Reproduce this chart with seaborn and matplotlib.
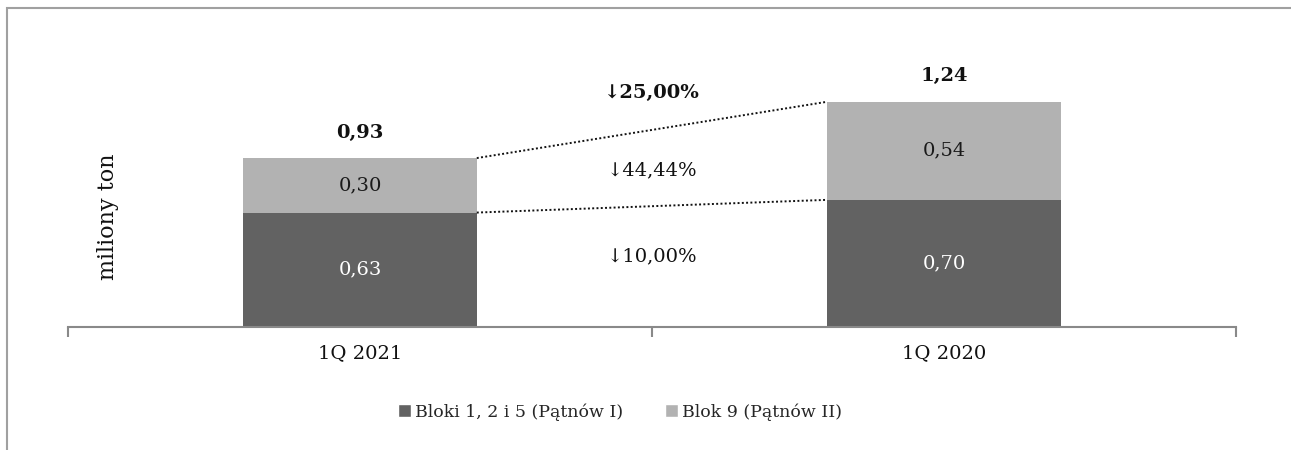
import matplotlib.pyplot as plt
import matplotlib as mpl
from matplotlib.patches import Patch, Rectangle
import pandas as pd
import seaborn as sns

# data
quarters = ['1Q 2021', '1Q 2020']
bloki_125 = [0.63, 0.70]
blok_9 = [0.30, 0.54]
totals = [0.93, 1.24]
series_names = ['Bloki 1, 2 i 5 (Pątnów I)', 'Blok 9 (Pątnów II)']
change_labels = ['↓25,00%', '↓44,44%', '↓10,00%']
change_y = [1.29, 0.865, 0.39]

dark = '#626262'
light = '#b2b2b2'

sns.set_theme(style='white')
plt.rcParams['font.family'] = ['DejaVu Serif', 'DejaVu Sans']

df = pd.DataFrame({'quarter': quarters, 'dark': bloki_125,
                   'light': blok_9, 'total': totals})

fig = plt.figure(figsize=(12.91, 4.5), dpi=100)
ax = fig.add_axes([68 / 1291, 1 - 327 / 450, (1236 - 68) / 1291, (327 - 30) / 450])

sns.barplot(data=df, x='quarter', y='total', color=light, saturation=1,
            width=0.4, ax=ax, linewidth=0)
sns.barplot(data=df, x='quarter', y='dark', color=dark, saturation=1,
            width=0.4, ax=ax, linewidth=0)

ax.set_xlim(-0.5, 1.5)
ax.set_ylim(0, 1.635)

# segment labels
for i in range(len(quarters)):
    ax.text(i, bloki_125[i] / 2, f'{bloki_125[i]:.2f}'.replace('.', ','),
            ha='center', va='center', color='white', fontsize=14)
    ax.text(i, bloki_125[i] + blok_9[i] / 2, f'{blok_9[i]:.2f}'.replace('.', ','),
            ha='center', va='center', color='#1a1a1a', fontsize=14)
    ax.text(i, totals[i] + 0.14, f'{totals[i]:.2f}'.replace('.', ','),
            ha='center', va='center', color='#111111', fontsize=14, fontweight='bold')

# dotted connectors between the bars
ax.plot([0.2, 0.8], [totals[0], totals[1]], color='#111111', ls=(0, (1, 1.2)), lw=1.4)
ax.plot([0.2, 0.8], [bloki_125[0], bloki_125[1]], color='#111111', ls=(0, (1, 1.2)), lw=1.4)

for j, (lab, yy) in enumerate(zip(change_labels, change_y)):
    ax.text(0.5, yy, lab, ha='center', va='center', fontsize=14,
            fontweight='bold' if j == 0 else 'normal', color='#111111')

# axes styling
for s in ['top', 'right', 'left']:
    ax.spines[s].set_visible(False)
ax.spines['bottom'].set_color('#898989')
ax.spines['bottom'].set_linewidth(1.5)
ax.set_yticks([])
ax.set_xlabel('')
ax.set_ylabel('')
ax.set_xticks([0, 1])
ax.set_xticklabels(quarters, fontsize=14, color='#111111')
ax.tick_params(axis='x', which='major', length=0, pad=12)
ax.set_xticks([-0.5, 0.5, 1.5], minor=True)
ax.tick_params(axis='x', which='minor', length=7, width=1.5, color='#898989', bottom=True)

fig.text(108 / 1291, 1 - 217 / 450, 'miliony ton', rotation=90, ha='center',
         va='center', fontsize=16, color='#111111')

handles = [Patch(facecolor=dark, label=series_names[0]),
           Patch(facecolor=light, label=series_names[1])]
fig.legend(handles=handles, loc='center', bbox_to_anchor=(620 / 1291, 1 - 412 / 450),
           ncol=2, frameon=False, fontsize=12.5, handlelength=0.75, handleheight=0.75,
           handletextpad=0.25, columnspacing=2.4)

# outer frame (only left and top visible in the crop)
fig.add_artist(Rectangle((7 / 1291, -0.1), 1.2, 1 - 8 / 450 + 0.1,
                         transform=fig.transFigure, fill=False,
                         edgecolor='#a0a0a0', lw=1.5))

fig.savefig('out.png', dpi=100)
